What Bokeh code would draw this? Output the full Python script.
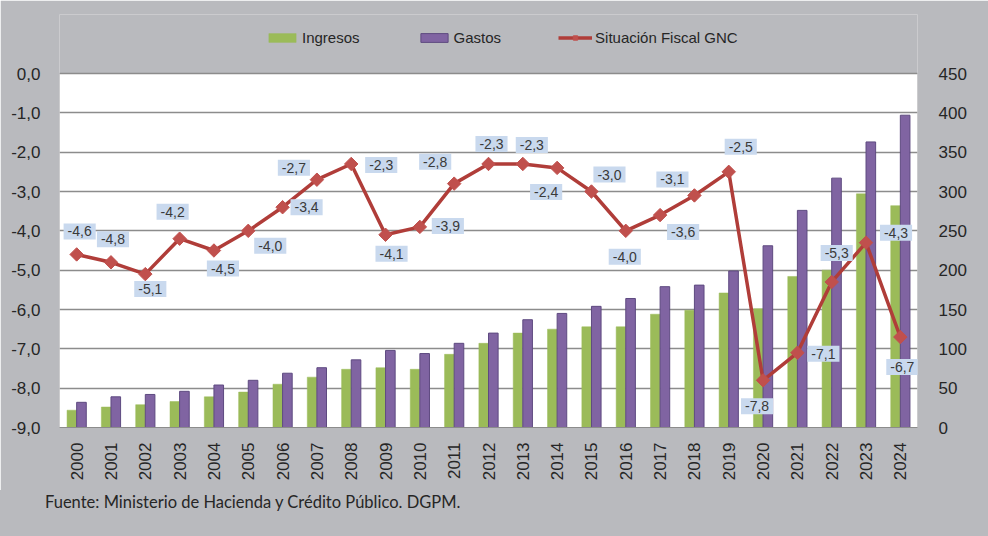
import math
from bokeh.plotting import figure
from bokeh.layouts import column
from bokeh.models import (ColumnDataSource, FactorRange, Range1d, LinearAxis,
                          FixedTicker, Legend, LegendItem, BoxAnnotation, Div)
from bokeh.transform import dodge
from bokeh.core.properties import value
from bokeh.embed import file_html
from bokeh.resources import INLINE

# ---- data ----
years = ["2000", "2001", "2002", "2003", "2004", "2005", "2006", "2007", "2008",
         "2009", "2010", "2011", "2012", "2013", "2014", "2015", "2016", "2017",
         "2018", "2019", "2020", "2021", "2022", "2023", "2024"]
ingresos = [22, 26, 29, 33, 39, 45, 55, 64, 74, 76, 74, 93, 107, 120, 125, 128,
            128, 144, 149, 171, 151, 192, 200, 297, 282]
gastos = [32, 39, 42, 46, 54, 60, 69, 76, 86, 98, 94, 107, 120, 137, 145, 154,
          164, 179, 181, 199, 231, 276, 317, 363, 397]
situacion = [-4.6, -4.8, -5.1, -4.2, -4.5, -4.0, -3.4, -2.7, -2.3, -4.1, -3.9,
             -2.8, -2.3, -2.3, -2.4, -3.0, -4.0, -3.6, -3.1, -2.5, -7.8, -7.1,
             -5.3, -4.3, -6.7]
left_ticks = [0, -1, -2, -3, -4, -5, -6, -7, -8, -9]
left_tick_labels = ["0,0", "-1,0", "-2,0", "-3,0", "-4,0", "-5,0", "-6,0",
                    "-7,0", "-8,0", "-9,0"]
right_ticks = [0, 50, 100, 150, 200, 250, 300, 350, 400, 450]
series_names = ["Ingresos", "Gastos", "Situación Fiscal GNC"]
source_text = "Fuente: Ministerio de Hacienda y Crédito Público. DGPM."

# label placement (style), screen pixels, +y = down
label_dx = [3, 2, 5, -7, 9, 22, 24, -23, 30, 6, 28, -19, 3, 9, -11, 18, -1, 23,
            -22, 12, -6, 26, 5, 30, 2]
label_dy = [-23, -23, 15, -27, 18, 15, 0, -12, 1, 19, -1, -22, -20, -19, 24,
            -17, 26, 17, -16, -25, 26, 1, -29, -10, 30]

src = ColumnDataSource(dict(
    year=years, ingresos=ingresos, gastos=gastos, sit=situacion,
    lbl=[f"{v:.1f}".replace(".", ",") for v in situacion],
    dx=label_dx, dy=label_dy))

GREEN = "#9bbb59"
PURPLE = "#8064a2"
RED = "#b03d39"
BG = "#b9babe"
GRID = "#8c8c8c"
TXT = "#262626"
FONT = "Liberation Sans"

# left range: data -9..0, plus headroom (gray strip holding the legend)
p = figure(x_range=FactorRange(factors=years), y_range=Range1d(-9, 1.5),
           width=988, height=490, output_backend="svg", toolbar_location=None,
           min_border_left=59, min_border_right=71, min_border_top=14,
           min_border_bottom=63)
p.extra_y_ranges = {"bars": Range1d(0, 525)}

p.border_fill_color = BG
p.background_fill_color = BG
p.outline_line_color = None

# white plotting area between 0 and -9 on the left scale
p.add_layout(BoxAnnotation(top=0, bottom=-9, fill_color="white", fill_alpha=1,
                           line_color=GRID, line_width=1, level="image"))

g = p.vbar(x=dodge("year", -0.14, range=p.x_range), top="ingresos", bottom=0,
           width=0.28, source=src, y_range_name="bars",
           fill_color=GREEN, line_color=GREEN, line_width=0.5)
pu = p.vbar(x=dodge("year", 0.14, range=p.x_range), top="gastos", bottom=0,
            width=0.28, source=src, y_range_name="bars",
            fill_color=PURPLE, line_color="#5e4a80", line_width=1)
ln = p.line(x="year", y="sit", source=src, line_color=RED, line_width=3.5)
mk = p.scatter(x="year", y="sit", source=src, marker="square", angle=math.pi / 4,
               size=9.5, fill_color="#c0504d", line_color="#c0504d")

p.text(x="year", y="sit", text="lbl", source=src, x_offset="dx", y_offset="dy",
       text_align="center", text_baseline="middle", text_font=value(FONT),
       text_font_size="14px", text_color="#3a3a3a",
       background_fill_color="#c9d9ee", padding=(4, 3))

# axes
p.yaxis.ticker = FixedTicker(ticks=left_ticks)
p.yaxis.major_label_overrides = {t: l for t, l in zip(left_ticks, left_tick_labels)}
ra = LinearAxis(y_range_name="bars", ticker=FixedTicker(ticks=right_ticks))
p.add_layout(ra, "right")
for ax in (p.yaxis[0], ra):
    ax.axis_line_color = None
    ax.major_tick_line_color = None
    ax.minor_tick_line_color = None
    ax.major_label_text_font = FONT
    ax.major_label_text_font_size = "17px"
    ax.major_label_text_color = TXT
p.yaxis[0].major_label_standoff = 13
ra.major_label_standoff = 15

p.xaxis.major_label_orientation = math.pi / 2
p.xaxis.major_tick_line_color = None
p.xaxis.axis_line_color = GRID
p.xaxis.major_label_text_font = FONT
p.xaxis.major_label_text_font_size = "17px"
p.xaxis.major_label_text_color = TXT
p.xaxis.major_label_standoff = 9

p.xgrid.grid_line_color = None
p.ygrid.ticker = FixedTicker(ticks=left_ticks)
p.ygrid.grid_line_color = GRID
p.ygrid.grid_line_width = 1.5

legend = Legend(items=[LegendItem(label=series_names[0], renderers=[g]),
                       LegendItem(label=series_names[1], renderers=[pu]),
                       LegendItem(label=series_names[2], renderers=[ln, mk])],
                orientation="horizontal", location=(206, 381),
                background_fill_alpha=0, border_line_alpha=0,
                glyph_width=34, glyph_height=11, label_standoff=3, spacing=57,
                padding=0, margin=0,
                label_text_font=FONT,
                label_text_font_size="15px", label_text_color=TXT)
p.add_layout(legend, "center")

footer = Div(text=('<div style="padding:3px 0 0 45px;font-family:Lato;'
                   'font-size:16.5px;line-height:19px;color:#262626;'
                   'white-space:nowrap">' + source_text + '</div>'),
             width=988, height=46, margin=0,
             styles={"background-color": BG})

layout = column(p, footer, spacing=0)

open("out.html", "w").write(file_html(layout, INLINE))
